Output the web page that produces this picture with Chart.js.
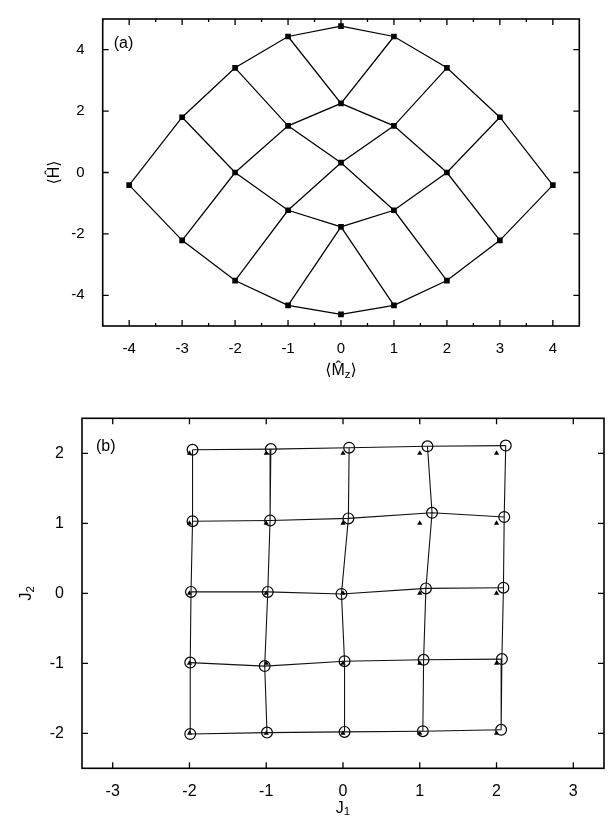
<!DOCTYPE html>
<html>
<head>
<meta charset="utf-8">
<script src="https://cdn.jsdelivr.net/npm/chart.js@4.4.1/dist/chart.umd.min.js"></script>
<style>
  html, body { margin: 0; padding: 0; background: #fff; }
  #wrapA { position: absolute; left: 0; top: 0; width: 613px; height: 390px; }
  #wrapB { position: absolute; left: 0; top: 390px; width: 613px; height: 431px; }
</style>
</head>
<body>
<div id="wrapA"><canvas id="chartA" width="613" height="390"></canvas></div>
<div id="wrapB"><canvas id="chartB" width="613" height="431"></canvas></div>
<script>
// ---- panel (a): <Mz> vs <H>, grid point [a][b] ----
const mzGrid = [
  [-4, -3, -2, -1, 0],
  [-3, -2, -1, 0, 1],
  [-2, -1, 0, 1, 2],
  [-1, 0, 1, 2, 3],
  [0, 1, 2, 3, 4]
];
const hGrid = [
  [-0.41, -2.21, -3.52, -4.33, -4.62],
  [1.80, 0.00, -1.23, -1.77, -4.33],
  [3.41, 1.52, 0.32, -1.23, -3.52],
  [4.43, 2.25, 1.52, 0.00, -2.21],
  [4.77, 4.43, 3.41, 1.80, -0.41]
];
const aTicksX = [-4, -3, -2, -1, 0, 1, 2, 3, 4];
const aTicksY = [-4, -2, 0, 2, 4];

// ---- panel (b): J1 vs J2, rows J2 = 2..-2, columns J1 = -2..2 ----
const circJ1 = [
  [-1.96, -0.94, 0.08, 1.10, 2.12],
  [-1.96, -0.95, 0.07, 1.16, 2.10],
  [-1.98, -0.98, -0.02, 1.08, 2.09],
  [-1.99, -1.02, 0.02, 1.05, 2.07],
  [-1.99, -0.99, 0.02, 1.04, 2.06]
];
const circJ2 = [
  [2.05, 2.06, 2.08, 2.10, 2.11],
  [1.03, 1.04, 1.07, 1.15, 1.09],
  [0.02, 0.02, -0.01, 0.07, 0.08],
  [-0.99, -1.04, -0.97, -0.95, -0.94],
  [-2.01, -1.99, -1.98, -1.97, -1.95]
];
const triJ1 = [
  [-2, -1, 0, 1, 2],
  [-2, -1, 0, 1, 2],
  [-2, -1, 0, 1, 2],
  [-2, -1, 0, 1, 2],
  [-2, -1, 0, 1, 2]
];
const triJ2 = [
  [2, 2, 2, 2, 2],
  [1, 1, 1, 1, 1],
  [0, 0, 0, 0, 0],
  [-1, -1, -1, -1, -1],
  [-2, -2, -2, -2, -2]
];
const bTicksX = [-3, -2, -1, 0, 1, 2, 3];
const bTicksY = [-2, -1, 0, 1, 2];

const FONT = "'Liberation Sans', Arial, 'DejaVu Sans', sans-serif";
Chart.defaults.font.family = FONT;
Chart.defaults.color = '#000';

function pts(xs, ys) {
  const out = [];
  xs.forEach((row, i) => row.forEach((x, j) => out.push({ x: x, y: ys[i][j] })));
  return out;
}

// rows and columns of a 5x5 grid as polylines
function gridLines(xs, ys, color, width) {
  const sets = [];
  for (let i = 0; i < xs.length; i++) {
    sets.push({
      data: xs[i].map((x, j) => ({ x: x, y: ys[i][j] })),
      showLine: true, pointRadius: 0, borderColor: color, borderWidth: width
    });
    sets.push({
      data: xs.map((r, j) => ({ x: r[i], y: ys[j][i] })),
      showLine: true, pointRadius: 0, borderColor: color, borderWidth: width
    });
  }
  return sets;
}

function drawPieces(ctx, pieces, cx, cy, size, rot) {
  ctx.save();
  ctx.translate(cx, cy);
  if (rot) ctx.rotate(rot);
  ctx.fillStyle = '#000';
  ctx.textBaseline = 'middle';
  let total = 0;
  const w = pieces.map(p => {
    ctx.font = (size * p[1]) + 'px ' + FONT;
    const m = ctx.measureText(p[0]).width;
    total += m;
    return m;
  });
  let x = -total / 2;
  pieces.forEach((p, i) => {
    ctx.font = (size * p[1]) + 'px ' + FONT;
    ctx.fillText(p[0], x, p[2]);
    x += w[i];
  });
  ctx.restore();
}

// box, inward ticks on all four sides, panel tag and axis titles
const frame = {
  id: 'frame',
  afterDatasetsDraw(chart, args, o) {
    const ctx = chart.ctx;
    const a = chart.chartArea;
    const sx = chart.scales.x, sy = chart.scales.y;
    ctx.save();
    ctx.strokeStyle = '#000';
    ctx.lineWidth = 1.6;
    ctx.strokeRect(a.left, a.top, a.right - a.left, a.bottom - a.top);
    ctx.lineWidth = 1.3;
    ctx.beginPath();
    sx.ticks.forEach(t => {
      const p = sx.getPixelForValue(t.value);
      ctx.moveTo(p, a.bottom); ctx.lineTo(p, a.bottom - o.tick);
      ctx.moveTo(p, a.top); ctx.lineTo(p, a.top + o.tick);
    });
    sy.ticks.forEach(t => {
      const p = sy.getPixelForValue(t.value);
      ctx.moveTo(a.left, p); ctx.lineTo(a.left + o.tick, p);
      ctx.moveTo(a.right, p); ctx.lineTo(a.right - o.tick, p);
    });
    (o.minorX || []).forEach(v => {
      const p = sx.getPixelForValue(v);
      ctx.moveTo(p, a.bottom); ctx.lineTo(p, a.bottom - 3);
      ctx.moveTo(p, a.top); ctx.lineTo(p, a.top + 3);
    });
    ctx.stroke();

    ctx.fillStyle = '#000';
    ctx.font = o.tagSize + 'px ' + FONT;
    ctx.textBaseline = 'alphabetic';
    ctx.textAlign = 'left';
    ctx.fillText(o.tag, a.left + o.tagDx, a.top + o.tagDy);
    ctx.restore();

    drawPieces(ctx, o.xTitle, (a.left + a.right) / 2, a.bottom + o.xTitleDy, o.titleSize, 0);
    drawPieces(ctx, o.yTitle, a.left - o.yTitleDx, (a.top + a.bottom) / 2, o.titleSize, -Math.PI / 2);
  }
};

function makeOptions(c) {
  return {
    responsive: false,
    animation: false,
    layout: { padding: c.pad },
    plugins: { legend: { display: false }, tooltip: { enabled: false }, frame: c.frame },
    scales: {
      x: {
        type: 'linear', min: c.xMin, max: c.xMax,
        grid: { display: false }, border: { display: false },
        afterBuildTicks: s => { s.ticks = c.xTicks.map(v => ({ value: v })); },
        afterFit: s => { s.height = c.xH; },
        ticks: { color: '#000', font: { size: c.fontSize }, padding: c.xPad,
                 maxRotation: 0, autoSkip: false, callback: v => String(v) }
      },
      y: {
        type: 'linear', min: c.yMin, max: c.yMax,
        grid: { display: false }, border: { display: false },
        afterBuildTicks: s => { s.ticks = c.yTicks.map(v => ({ value: v })); },
        afterFit: s => { s.width = c.yW; },
        ticks: { color: '#000', font: { size: c.fontSize }, padding: c.yPad,
                 autoSkip: false, callback: v => String(v) }
      }
    }
  };
}

// ---- chart (a) ----
new Chart(document.getElementById('chartA'), {
  type: 'scatter',
  data: {
    datasets: gridLines(mzGrid, hGrid, '#000', 1.25).concat([{
      data: pts(mzGrid, hGrid),
      pointStyle: 'rect', pointRadius: 4, backgroundColor: '#000', borderWidth: 0
    }])
  },
  options: makeOptions({
    pad: { top: 6, right: 33.7, left: 0, bottom: 0 },
    xMin: -4.5, xMax: 4.5, yMin: -5, yMax: 5,
    xTicks: aTicksX, yTicks: aTicksY,
    xH: 64, yW: 102.7, fontSize: 15, xPad: 6, yPad: 10,
    frame: {
      tick: 6, minorX: [-4.5, -3.5, -2.5, -1.5, -0.5, 0.5, 1.5, 2.5, 3.5],
      tag: '(a)', tagSize: 16, tagDx: 11, tagDy: 29,
      titleSize: 16,
      xTitle: [['\u27E8M\u0302', 1, 0], ['z', 0.72, 4], ['\u27E9', 1, 0]], xTitleDy: 45,
      yTitle: [['\u27E8\u0124\u27E9', 1, 0]], yTitleDx: 48
    }
  }),
  plugins: [frame]
});

// ---- chart (b) ----
new Chart(document.getElementById('chartB'), {
  type: 'scatter',
  data: {
    datasets: gridLines(circJ1, circJ2, '#111', 1.1).concat([{
      data: pts(triJ1, triJ2),
      pointStyle: 'triangle', pointRadius: 3, backgroundColor: '#000', borderWidth: 0
    }, {
      data: pts(circJ1, circJ2),
      pointStyle: 'circle', pointRadius: 5.4, backgroundColor: 'rgba(0,0,0,0)',
      borderColor: '#000', borderWidth: 1.2
    }])
  },
  options: makeOptions({
    pad: { top: 28.3, right: 9, left: 0, bottom: 0 },
    xMin: -3.4, xMax: 3.4, yMin: -2.5, yMax: 2.5,
    xTicks: bTicksX, yTicks: bTicksY,
    xH: 52.7, yW: 82, fontSize: 16, xPad: 6, yPad: 10,
    frame: {
      tick: 6,
      tag: '(b)', tagSize: 16, tagDx: 14, tagDy: 33,
      titleSize: 16,
      xTitle: [['J', 1, 0], ['1', 0.72, 4]], xTitleDy: 40,
      yTitle: [['J', 1, 0], ['2', 0.72, 4]], yTitleDx: 55
    }
  }),
  plugins: [frame]
});
</script>
</body>
</html>
